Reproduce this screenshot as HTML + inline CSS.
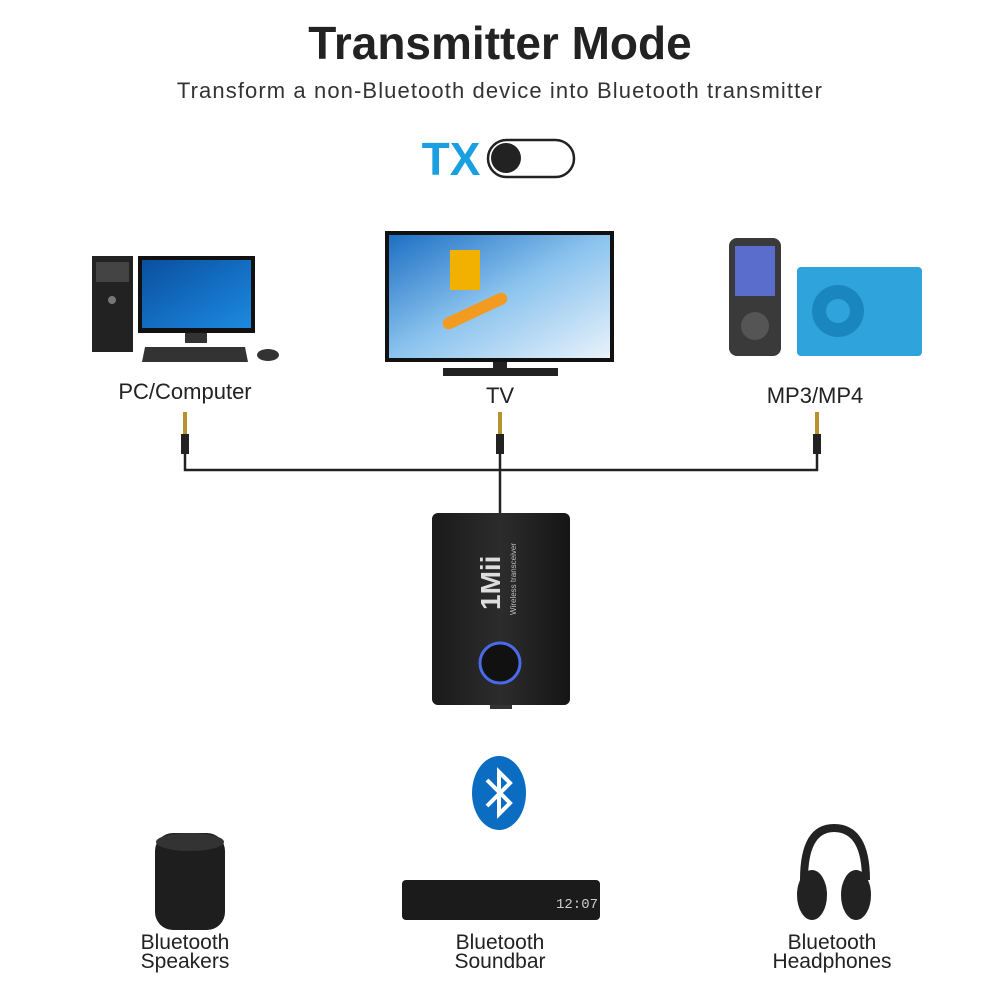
<!DOCTYPE html>
<html><head><meta charset="utf-8"><style>
html,body{margin:0;padding:0;background:#fff;}
body{width:1000px;height:1000px;position:relative;overflow:hidden;font-family:"Liberation Sans",sans-serif;}
.t{position:absolute;left:0;width:1000px;text-align:center;}
</style></head><body>
<div class="t" style="top:16px;font-size:46px;font-weight:bold;color:#222;letter-spacing:0px;">Transmitter Mode</div>
<div class="t" style="top:78px;font-size:22px;color:#333;letter-spacing:1.1px;">Transform a non-Bluetooth device into Bluetooth transmitter</div>
<svg width="1000" height="1000" style="position:absolute;left:0;top:0">
<defs>
<linearGradient id="sky" x1="0" y1="0" x2="1" y2="1"><stop offset="0" stop-color="#1d6fc4"/><stop offset="0.5" stop-color="#8cc4ee"/><stop offset="1" stop-color="#e8f2fb"/></linearGradient>
<linearGradient id="win" x1="0" y1="0" x2="1" y2="1"><stop offset="0" stop-color="#0a4fa0"/><stop offset="1" stop-color="#1c8ae0"/></linearGradient>
<linearGradient id="dev" x1="0" y1="0" x2="1" y2="0"><stop offset="0" stop-color="#1a1a1a"/><stop offset="0.5" stop-color="#2c2c2c"/><stop offset="1" stop-color="#151515"/></linearGradient>
</defs>
<text x="451" y="175" font-size="46" font-weight="bold" fill="#1aa0e0" text-anchor="middle" font-family="Liberation Sans">TX</text>
<rect x="488" y="140" width="86" height="37" rx="18.5" fill="#fff" stroke="#222" stroke-width="2.5"/>
<circle cx="506" cy="158" r="15" fill="#222"/>
<rect x="92" y="256" width="41" height="96" fill="#222"/>
<rect x="96" y="262" width="33" height="20" fill="#444"/>
<circle cx="112" cy="300" r="4" fill="#777"/>
<rect x="138" y="256" width="117" height="77" fill="#111"/>
<rect x="142" y="260" width="109" height="68" fill="url(#win)"/>
<rect x="185" y="333" width="22" height="10" fill="#333"/>
<polygon points="145,347 245,347 248,362 142,362" fill="#333"/>
<ellipse cx="268" cy="355" rx="11" ry="6" fill="#333"/>
<text x="185" y="399" font-size="22" fill="#222" text-anchor="middle" font-family="Liberation Sans">PC/Computer</text>
<rect x="385" y="231" width="229" height="131" fill="#111"/>
<rect x="389" y="235" width="221" height="123" fill="url(#sky)"/>
<rect x="450" y="250" width="30" height="40" fill="#f2b000"/>
<rect x="440" y="305" width="70" height="12" rx="6" fill="#f39a20" transform="rotate(-25 475 311)"/>
<rect x="493" y="362" width="14" height="7" fill="#222"/>
<rect x="443" y="368" width="115" height="8" fill="#222"/>
<text x="500" y="403" font-size="22" fill="#222" text-anchor="middle" font-family="Liberation Sans">TV</text>
<rect x="729" y="238" width="52" height="118" rx="8" fill="#3a3a3a"/>
<rect x="735" y="246" width="40" height="50" fill="#5a6ccc"/>
<circle cx="755" cy="326" r="14" fill="#555"/>
<rect x="797" y="267" width="125" height="89" rx="4" fill="#2fa3dc"/>
<circle cx="838" cy="311" r="26" fill="#1a86c0"/>
<circle cx="838" cy="311" r="12" fill="#2fa3dc"/>
<text x="815" y="403" font-size="22" fill="#222" text-anchor="middle" font-family="Liberation Sans">MP3/MP4</text>
<g fill="#b8922f">
<rect x="183" y="412" width="4" height="22"/><rect x="498" y="412" width="4" height="22"/><rect x="815" y="412" width="4" height="22"/>
</g>
<g fill="#222">
<rect x="181" y="434" width="8" height="20"/><rect x="496" y="434" width="8" height="20"/><rect x="813" y="434" width="8" height="20"/>
</g>
<path d="M185 454 V470 H817 V454 M500 454 V515" fill="none" stroke="#222" stroke-width="2.5"/>
<rect x="432" y="513" width="138" height="192" rx="6" fill="url(#dev)"/>
<text transform="translate(500 610) rotate(-90)" font-size="28" font-weight="bold" fill="#ddd" font-family="Liberation Sans">1Mii</text>
<text transform="translate(516 615) rotate(-90)" font-size="8" fill="#bbb" font-family="Liberation Sans">Wireless transceiver</text>
<circle cx="500" cy="663" r="20" fill="#111" stroke="#4a6ae8" stroke-width="3"/>
<rect x="490" y="705" width="22" height="4" fill="#333"/>
<ellipse cx="499" cy="793" rx="27" ry="37" fill="#0a6dc2"/>
<path d="M487 780 L510 803 L499 814 V772 L510 783 L487 806" fill="none" stroke="#fff" stroke-width="4"/>
<rect x="155" y="833" width="70" height="97" rx="18" fill="#1e1e1e"/>
<ellipse cx="190" cy="842" rx="34" ry="9" fill="#333"/>
<rect x="402" y="880" width="198" height="40" rx="4" fill="#1b1b1b"/>
<text x="577" y="908" font-size="14" fill="#ccc" text-anchor="middle" font-family="Liberation Mono">12:07</text>
<path d="M804 880 Q804 828 834 828 Q866 828 866 880" fill="none" stroke="#222" stroke-width="8"/>
<ellipse cx="812" cy="895" rx="15" ry="25" fill="#222"/>
<ellipse cx="856" cy="895" rx="15" ry="25" fill="#222"/>
</svg>
<div style="position:absolute;left:85px;width:200px;top:933px;text-align:center;font-size:21px;line-height:19px;color:#222;">Bluetooth<br>Speakers</div>
<div style="position:absolute;left:400px;width:200px;top:933px;text-align:center;font-size:21px;line-height:19px;color:#222;">Bluetooth<br>Soundbar</div>
<div style="position:absolute;left:732px;width:200px;top:933px;text-align:center;font-size:21px;line-height:19px;color:#222;">Bluetooth<br>Headphones</div>
</body></html>
